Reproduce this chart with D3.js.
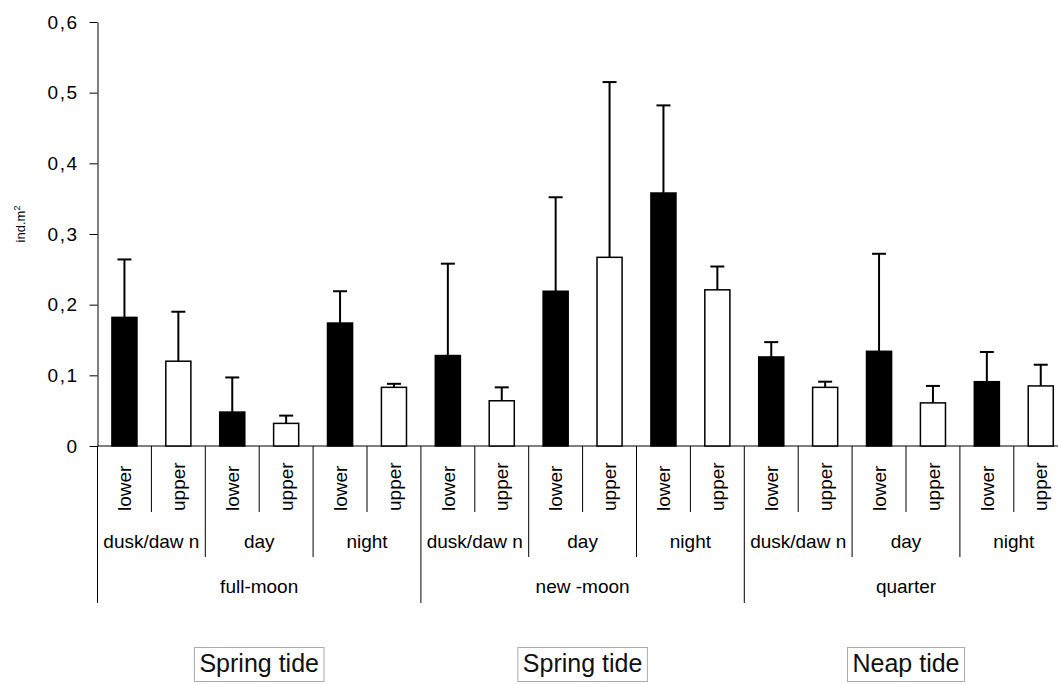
<!DOCTYPE html>
<html><head><meta charset="utf-8">
<script src="https://cdn.jsdelivr.net/npm/d3@7/dist/d3.min.js"></script>
<style>
body{margin:0;background:#fff}
svg text{font-family:"Liberation Sans",Arial,sans-serif;fill:#000}
</style>
</head><body>
<svg id="chart" width="1058" height="684"></svg>
<script>
// ---- data ----
const moons = ["full-moon", "new -moon", "quarter"];
const times = ["dusk/daw n", "day", "night"];
const levels = ["lower", "upper"];
const means = [0.182, 0.120, 0.048, 0.032, 0.174, 0.083,
               0.128, 0.064, 0.219, 0.267, 0.358, 0.221,
               0.126, 0.083, 0.134, 0.061, 0.091, 0.085];
const errs  = [0.082, 0.070, 0.049, 0.011, 0.045, 0.005,
               0.130, 0.019, 0.133, 0.248, 0.124, 0.033,
               0.021, 0.008, 0.138, 0.024, 0.042, 0.030];
const yTicks = [0, 0.1, 0.2, 0.3, 0.4, 0.5, 0.6];
const tideLabels = ["Spring tide", "Spring tide", "Neap tide"];
const yTitle = "ind.m";

// ---- build rows ----
const rows = [];
moons.forEach((m, mi) => times.forEach((t, ti) => levels.forEach((l, li) => {
  const i = rows.length;
  rows.push({i, moon: m, time: t, level: l, mean: means[i], err: errs[i]});
})));

const svg = d3.select("#chart");
const left = 97.5, step = 53.9, baseY = 446, topY = 22;
const x = d3.scaleBand().domain(d3.range(rows.length)).range([left, left + step * rows.length]).padding(0);
const y = d3.scaleLinear().domain([0, 0.6]).range([baseY, topY]);
const bw = x.bandwidth() * 0.465;

// y axis
const yAxis = d3.axisLeft(y).tickValues(yTicks).tickSize(8).tickSizeOuter(0).tickPadding(11)
  .tickFormat(d => d === 0 ? "0" : d3.format(".1f")(d).replace(".", ","));
const gy = svg.append("g").attr("transform", `translate(${left},0)`).call(yAxis);
gy.selectAll("path,line").attr("stroke", "#000").attr("stroke-width", 1);
gy.selectAll("text").style("font-size", "19px").attr("letter-spacing", "1.5px");

// y title
svg.append("text").attr("transform", `translate(25,224) rotate(-90)`)
  .attr("text-anchor", "middle").style("font-size", "13px")
  .text(yTitle).append("tspan").attr("dy", "-5").style("font-size", "9px").text("2");

// x axis baseline
svg.append("line").attr("x1", left).attr("x2", x.range()[1]).attr("y1", baseY).attr("y2", baseY)
  .attr("stroke", "#000").attr("stroke-width", 1);

// separators
const bounds = d3.range(rows.length + 1);
svg.append("g").selectAll("line").data(bounds).join("line")
  .attr("x1", i => i < rows.length ? x(i) : x.range()[1])
  .attr("x2", i => i < rows.length ? x(i) : x.range()[1])
  .attr("y1", baseY)
  .attr("y2", i => i % 6 === 0 ? 603 : (i % 2 === 0 ? 557 : 512))
  .attr("stroke", "#000").attr("stroke-width", 1);

// level-1 labels
svg.append("g").selectAll("text").data(rows).join("text")
  .attr("transform", d => `translate(${x(d.i) + x.bandwidth() / 2},511) rotate(-90)`)
  .attr("dy", "0.35em").attr("text-anchor", "start").style("font-size", "19px")
  .text(d => d.level);

// level-2 labels
const timeGroups = d3.range(moons.length * times.length);
svg.append("g").selectAll("text").data(timeGroups).join("text")
  .attr("x", g => x(g * 2) + x.bandwidth())
  .attr("y", 548).attr("text-anchor", "middle").style("font-size", "19px")
  .text(g => times[g % times.length]);

// level-3 labels
svg.append("g").selectAll("text").data(moons).join("text")
  .attr("x", (m, mi) => x(mi * 6) + 3 * x.bandwidth())
  .attr("y", 593).attr("text-anchor", "middle").style("font-size", "19px")
  .text(m => m);

// bars
svg.append("g").selectAll("rect").data(rows).join("rect")
  .attr("x", d => x(d.i) + (x.bandwidth() - bw) / 2)
  .attr("width", bw)
  .attr("y", d => y(d.mean))
  .attr("height", d => y(0) - y(d.mean))
  .attr("fill", d => d.level === "lower" ? "#000" : "#fff")
  .attr("stroke", "#000").attr("stroke-width", 1.5);

// error bars
const eg = svg.append("g").attr("stroke", "#000").attr("stroke-width", 2);
rows.forEach(d => {
  const cx = x(d.i) + x.bandwidth() / 2;
  eg.append("line").attr("x1", cx).attr("x2", cx).attr("y1", y(d.mean)).attr("y2", y(d.mean + d.err));
  eg.append("line").attr("x1", cx - 7).attr("x2", cx + 7).attr("y1", y(d.mean + d.err)).attr("y2", y(d.mean + d.err));
});

// tide boxes
tideLabels.forEach((t, mi) => {
  const cx = x(mi * 6) + 3 * x.bandwidth();
  const g = svg.append("g");
  const tx = g.append("text").attr("x", cx).attr("y", 672).attr("text-anchor", "middle")
    .style("font-size", "25px").style("fill", "#111").text(t);
  const w = tx.node().getComputedTextLength() + 10;
  g.insert("rect", "text").attr("x", cx - w / 2).attr("y", 647.5).attr("width", w).attr("height", 34)
    .attr("fill", "#fff").attr("stroke", "#aaa").attr("stroke-width", 1);
});
</script>
</body></html>
